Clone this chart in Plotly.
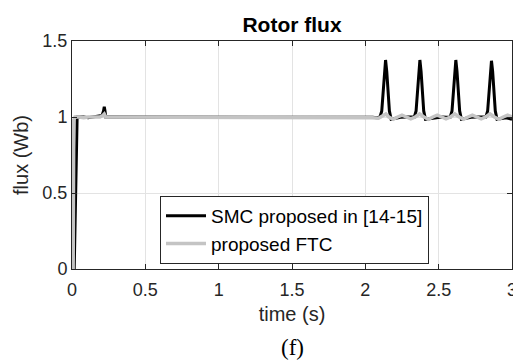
import plotly.graph_objects as go

# SMC proposed in [14-15] (black)
t_smc = [0.0, 0.015, 0.025, 0.03, 0.035, 0.05, 0.08, 0.11, 0.14, 0.17, 0.19, 0.205, 0.215, 0.22, 0.225, 0.23, 0.24, 0.26, 0.5, 1.0, 1.5, 2.0, 2.05, 2.08,
         2.10, 2.112, 2.122, 2.130, 2.138, 2.146, 2.154, 2.164, 2.176, 2.20, 2.24, 2.28, 2.31, 2.334,
         2.346, 2.356, 2.364, 2.372, 2.380, 2.388, 2.398, 2.41, 2.44, 2.48, 2.52, 2.555, 2.579,
         2.591, 2.601, 2.609, 2.617, 2.625, 2.633, 2.643, 2.655, 2.68, 2.72, 2.76, 2.80, 2.822,
         2.834, 2.844, 2.852, 2.860, 2.868, 2.876, 2.886, 2.898, 2.93, 2.96, 3.0]
v_smc = [0.0, 0.0, 0.5, 0.97, 1.0, 1.0, 1.0, 0.995, 1.0, 1.0, 1.005, 1.01, 1.04, 1.068, 1.04, 1.0, 1.0, 1.0, 1.0, 1.0, 1.0, 1.0, 0.998, 0.995,
         1.0, 1.04, 1.16, 1.30, 1.375, 1.30, 1.16, 1.04, 0.985, 0.99, 0.998, 1.0, 0.998, 1.0,
         1.04, 1.16, 1.30, 1.375, 1.30, 1.16, 1.04, 0.985, 0.99, 0.998, 1.0, 0.998, 1.0,
         1.04, 1.16, 1.30, 1.375, 1.30, 1.16, 1.04, 0.985, 0.99, 0.998, 1.0, 0.998, 1.0,
         1.04, 1.16, 1.30, 1.37, 1.30, 1.16, 1.04, 0.985, 0.99, 0.995, 0.985]

# proposed FTC (gray)
t_ftc = [0.0, 0.008, 0.012, 0.02, 0.05, 0.08, 0.11, 0.14, 0.17, 0.19, 0.21, 0.22, 0.23, 0.25, 0.5, 1.0, 1.5, 2.0, 2.05,
         2.09, 2.12, 2.14, 2.16, 2.19, 2.22, 2.25, 2.28, 2.31, 2.34, 2.37, 2.40, 2.43, 2.46,
         2.49, 2.52, 2.55, 2.58, 2.61, 2.64, 2.67, 2.70, 2.73, 2.76, 2.79, 2.82, 2.85, 2.88,
         2.91, 2.94, 2.97, 3.0]
v_ftc = [0.0, 0.0, 0.98, 1.0, 1.0, 0.995, 1.0, 1.0, 1.005, 1.0, 1.01, 1.02, 1.0, 1.0, 1.0, 1.0, 1.0, 1.0, 0.995,
         0.992, 1.005, 1.02, 1.0, 0.985, 1.0, 1.012, 1.0, 0.988, 1.0, 1.02, 1.0, 0.985, 1.0,
         1.012, 1.0, 0.988, 1.0, 1.02, 1.0, 0.985, 1.0, 1.012, 1.0, 0.988, 1.0, 1.02, 1.0,
         0.985, 1.0, 1.012, 1.0]

x_ticks = [0, 0.5, 1, 1.5, 2, 2.5, 3]
x_tick_labels = ["0", "0.5", "1", "1.5", "2", "2.5", "3"]
y_ticks = [0, 0.5, 1, 1.5]
y_tick_labels = ["0", "0.5", "1", "1.5"]

SANS = "Liberation Sans, Arial"

fig = go.Figure()
fig.add_trace(go.Scatter(x=t_smc, y=v_smc, mode="lines", name="SMC proposed in [14-15]",
                         line=dict(color="black", width=3)))
fig.add_trace(go.Scatter(x=t_ftc, y=v_ftc, mode="lines", name="proposed FTC",
                         line=dict(color="#c4c4c4", width=3.5)))

axis_common = dict(showline=True, linecolor="#262626", linewidth=1, mirror="ticks",
                   ticks="inside", ticklen=5, tickcolor="#262626", automargin=False,
                   showgrid=True, gridcolor="#e3e3e3", gridwidth=1, zeroline=False,
                   tickfont=dict(family=SANS, size=18, color="#262626"))

# page body has an 8px default margin: figure is 513x355 and offsets are compensated
fig.update_layout(
    width=513, height=355,
    margin=dict(l=64, r=9, t=33, b=94),
    paper_bgcolor="white", plot_bgcolor="white",
    title=dict(text="<b>Rotor flux</b>", xref="paper", x=0.5, xanchor="center",
               yref="container", y=1 - 17 / 355, yanchor="middle",
               font=dict(family=SANS, size=21, color="black")),
    xaxis=dict(range=[0, 3], tickvals=x_ticks, ticktext=x_tick_labels, ticklabelstandoff=4,
               title=dict(text="time (s)", standoff=8,
                          font=dict(family=SANS, size=20, color="#262626")),
               **axis_common),
    yaxis=dict(range=[0, 1.5], tickvals=y_ticks, ticktext=y_tick_labels,
               title=dict(text="flux (Wb)", standoff=8,
                          font=dict(family=SANS, size=20, color="#262626")),
               **axis_common),
    legend=dict(x=(160 - 72) / 440, y=(269 - 196) / 228, xanchor="left", yanchor="top",
                bgcolor="white", bordercolor="#262626", borderwidth=1,
                font=dict(family=SANS, size=19, color="black"),
                itemwidth=40),
    annotations=[dict(text="(f)", xref="paper", yref="paper", x=(292 - 72) / 440, y=(269 - 347) / 228,
                      xanchor="center", yanchor="middle", showarrow=False,
                      font=dict(family="Liberation Serif, Times New Roman", size=23, color="black"))],
)

fig.write_html("out.html")
